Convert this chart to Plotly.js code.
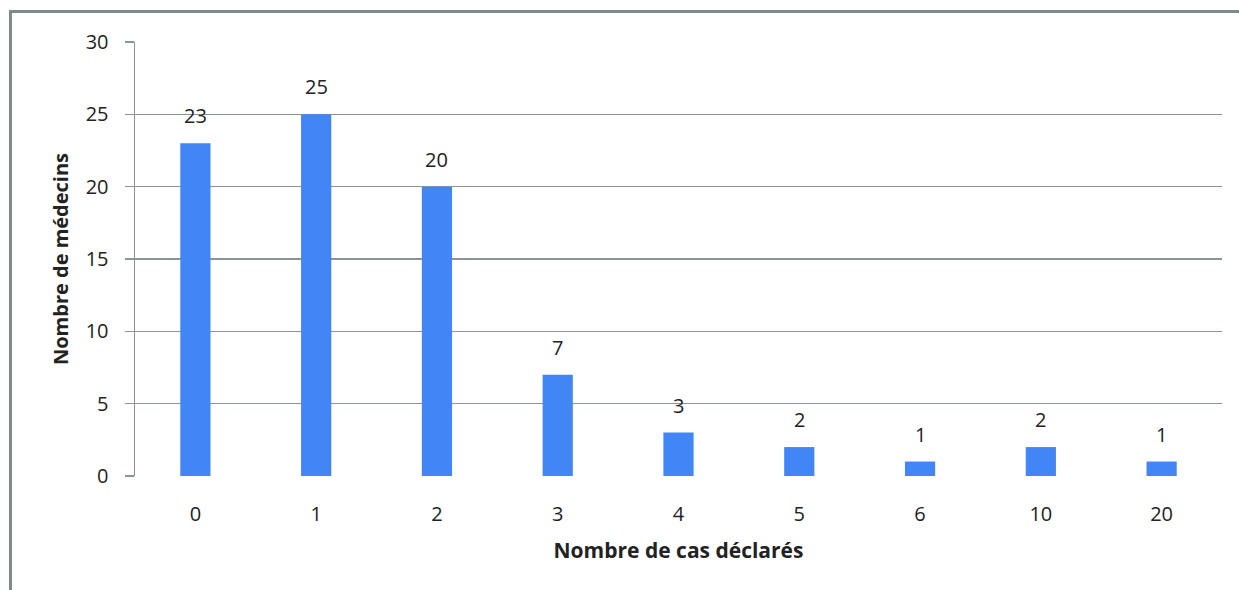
<!DOCTYPE html>
<html><head><meta charset="utf-8">
<script src="https://cdn.plot.ly/plotly-3.0.1.min.js"></script>
<style>
html,body{margin:0;padding:0;background:#fff;overflow:hidden;}
#frame{position:absolute;left:9px;top:10px;width:1300px;height:700px;border:3px solid #7d8b89;box-sizing:border-box;pointer-events:none;z-index:5;}
#chart{position:absolute;left:0;top:0;width:1239px;height:590px;}
</style></head>
<body>
<div id="chart"></div>
<div id="frame"></div>
<script>
const categories = ["0","1","2","3","4","5","6","10","20"];
const medecins = [23,25,20,7,3,2,1,2,1];
const yTicks = [0,5,10,15,20,25,30];

const fontFam = "Open Sans, DejaVu Sans, sans-serif";
const trace = {
  type: 'bar',
  x: categories,
  y: medecins,
  marker: {color: '#4285f4'},
  hoverinfo: 'x+y'
};
const annotations = categories.map((c,i)=>({
  x: i, y: medecins[i], xref:'x', yref:'y',
  text: String(medecins[i]), showarrow:false,
  yanchor:'bottom', yshift: 12,
  font:{family:fontFam,size:20,color:'#222'}
}));
const layout = {
  width:1239, height:590,
  margin:{l:135,r:17,t:42,b:114},
  paper_bgcolor:'#fff', plot_bgcolor:'#fff',
  showlegend:false,
  bargap:0.75,
  font:{family:fontFam,color:'#222'},
  xaxis:{
    type:'category',
    range:[-0.5, categories.length-0.5], autorange:false,
    tickfont:{size:20,color:'#222'},
    ticks:'', showgrid:false, showline:false, zeroline:false,
    ticklabelstandoff:24,
    title:{text:'<b>Nombre de cas déclarés</b>', font:{size:21,color:'#222'}, standoff:17}
  },
  yaxis:{
    range:[0,30], autorange:false, tickvals:yTicks, ticktext:yTicks.map(String),
    tickfont:{size:20,color:'#222'},
    ticks:'outside', ticklen:9, tickcolor:'#8a9594', tickwidth:1.5,
    showgrid:true, gridcolor:'#8a9594', gridwidth:1.5,
    showline:true, linecolor:'#8a9594', linewidth:1.5,
    zeroline:false,
    ticklabelstandoff:12,
    title:{text:'<b>Nombre de médecins</b>', font:{size:20,color:'#222'}, standoff:11}
  },
  annotations: annotations
};
Plotly.newPlot('chart',[trace],layout,{displayModeBar:false,staticPlot:true});
</script>
</body></html>
